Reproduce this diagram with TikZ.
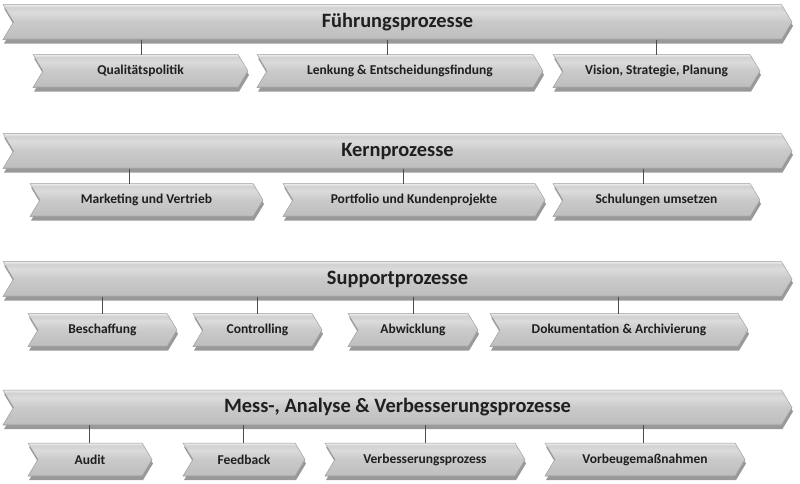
\documentclass[tikz,border=0pt]{standalone}
\usepackage{fontspec}
\setmainfont{Carlito}
\usetikzlibrary{shapes.symbols,shadows}

\pgfdeclareverticalshading{chevronshade}{100bp}{color(0bp)=(gray!70); color(25bp)=(gray!70); color(28bp)=(gray!50); color(50bp)=(gray!42); color(64bp)=(gray!28); color(71bp)=(gray!36); color(74bp)=(gray!18); color(100bp)=(gray!18)}

\tikzset{
  chevron/.style={signal, signal from=west, signal to=east, signal pointer angle=118,
    shading=chevronshade, draw=gray!75, line width=0.5pt, inner sep=0pt, outer sep=0pt,
    text=black!88,
    drop shadow={shadow xshift=1pt, shadow yshift=-4pt, opacity=0.4, fill=black}},
  mainbar/.style={chevron, minimum width=789pt, minimum height=35pt, font=\fontsize{20.4}{22}\selectfont\bfseries},
  subbar/.style={chevron, minimum height=33pt, font=\fontsize{13.5}{15}\selectfont\bfseries},
  conn/.style={draw=black!70, line width=0.8pt}
}

\begin{document}
\begin{tikzpicture}[x=1pt, y=-1pt]

    \useasboundingbox (0,0) rectangle (800,483);

    % Führungsprozesse
    \node[mainbar] (fp) at (397.5,22) {Führungsprozesse};
    \node[subbar, minimum width=215pt] (qual) at (140.5,71) {Qualitätspolitik};
    \node[subbar, minimum width=286pt] (lenk) at (400,71) {Lenkung \& Entscheidungsfindung};
    \node[subbar, minimum width=207pt] (vis) at (656.5,71) {Vision, Strategie, Planung};
    \draw[conn] (fp.south -| 141,0) -- (qual.north -| 141,0);
    \draw[conn] (fp.south -| 387,0) -- (lenk.north -| 387,0);
    \draw[conn] (fp.south -| 656,0) -- (vis.north -| 656,0);

    % Kernprozesse
    \node[mainbar] (kp) at (397.5,151) {Kernprozesse};
    \node[subbar, minimum width=233pt] (mark) at (146.5,200) {Marketing und Vertrieb};
    \node[subbar, minimum width=262pt] (port) at (414,200) {Portfolio und Kundenprojekte};
    \node[subbar, minimum width=207pt] (schul) at (656.5,200) {Schulungen umsetzen};
    \draw[conn] (kp.south -| 129,0) -- (mark.north -| 129,0);
    \draw[conn] (kp.south -| 403,0) -- (port.north -| 403,0);
    \draw[conn] (kp.south -| 643,0) -- (schul.north -| 643,0);

    % Supportprozesse
    \node[mainbar] (sp) at (397.5,279) {Supportprozesse};
    \node[subbar, minimum width=149pt] (besch) at (102.5,330) {Beschaffung};
    \node[subbar, minimum width=129pt] (contr) at (257.5,330) {Controlling};
    \node[subbar, minimum width=130pt] (abw) at (413,330) {Abwicklung};
    \node[subbar, minimum width=258pt] (doku) at (619,330) {Dokumentation \& Archivierung};
    \draw[conn] (sp.south -| 102,0) -- (besch.north -| 102,0);
    \draw[conn] (sp.south -| 257,0) -- (contr.north -| 257,0);
    \draw[conn] (sp.south -| 413,0) -- (abw.north -| 413,0);
    \draw[conn] (sp.south -| 618,0) -- (doku.north -| 618,0);

    % Mess-, Analyse & Verbesserungsprozesse
    \node[mainbar] (mp) at (397.5,407.5) {Mess-, Analyse \& Verbesserungsprozesse};
    \node[subbar, minimum width=124pt] (audit) at (90,459.5) {Audit};
    \node[subbar, minimum width=122pt] (feed) at (244,459.5) {Feedback};
    \node[subbar, minimum width=200pt] (verb) at (425,459.5) {Verbesserungsprozess};
    \node[subbar, minimum width=200pt] (vorb) at (645,459.5) {Vorbeugemaßnahmen};
    \draw[conn] (mp.south -| 89,0) -- (audit.north -| 89,0);
    \draw[conn] (mp.south -| 243,0) -- (feed.north -| 243,0);
    \draw[conn] (mp.south -| 425,0) -- (verb.north -| 425,0);
    \draw[conn] (mp.south -| 643,0) -- (vorb.north -| 643,0);

\end{tikzpicture}
\end{document}
